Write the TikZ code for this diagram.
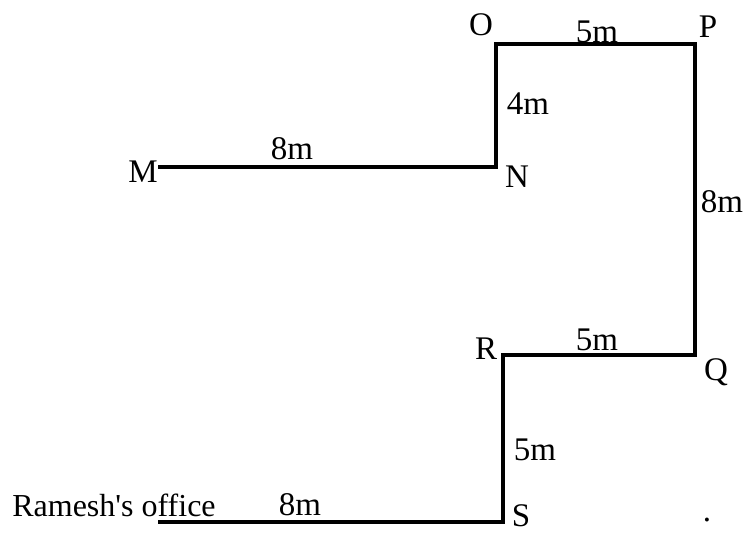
\documentclass[tikz,border=0pt]{standalone}
\usepackage{fontspec}
\setmainfont{Liberation Serif}
\usetikzlibrary{positioning}

\begin{document}
\begin{tikzpicture}[x=1pt, y=-1pt,
    walk/.style={line width=3.5pt},
    lbl/.style={font=\fontsize{33}{33}\selectfont, inner sep=0pt}]
  \useasboundingbox (0,0) rectangle (746,535);
  % corners of the walk
  \coordinate (m) at (158,167);
  \coordinate (n) at (496,167);
  \coordinate (o) at (496,44);
  \coordinate (p) at (695,44);
  \coordinate (q) at (695,355);
  \coordinate (r) at (503,355);
  \coordinate (s) at (503,522);
  \coordinate (office) at (158,522);
  \draw[walk] (m) -- (n) -- (o) -- (p) -- (q) -- (r) -- (s) -- (office);
  % letters
  \node (mlabel) [lbl] at (143,172) {M};
  \node (nlabel) [lbl] at (517,177) {N};
  \node (olabel) [lbl] at (481,25) {O};
  \node (plabel) [lbl] at (708,27) {P};
  \node (qlabel) [lbl] at (716,372) {Q};
  \node (rlabel) [lbl] at (486,349) {R};
  \node (slabel) [lbl] at (521,516) {S};
  \node (officelabel) [lbl, font=\fontsize{32}{32}\selectfont] at (114,505) {Ramesh\textquotesingle s office};
  % distances
  \node (mn) [lbl] at (292,149) {8m};
  \node (no) [lbl] at (528,104) {4m};
  \node (op) [lbl] at (597,32) {5m};
  \node (pq) [lbl] at (722,202) {8m};
  \node (qr) [lbl] at (597,340) {5m};
  \node (rs) [lbl] at (535,450) {5m};
  \node (so) [lbl] at (300,505) {8m};
  \node (dot) [lbl] at (707,520) {.};
\end{tikzpicture}
\end{document}
